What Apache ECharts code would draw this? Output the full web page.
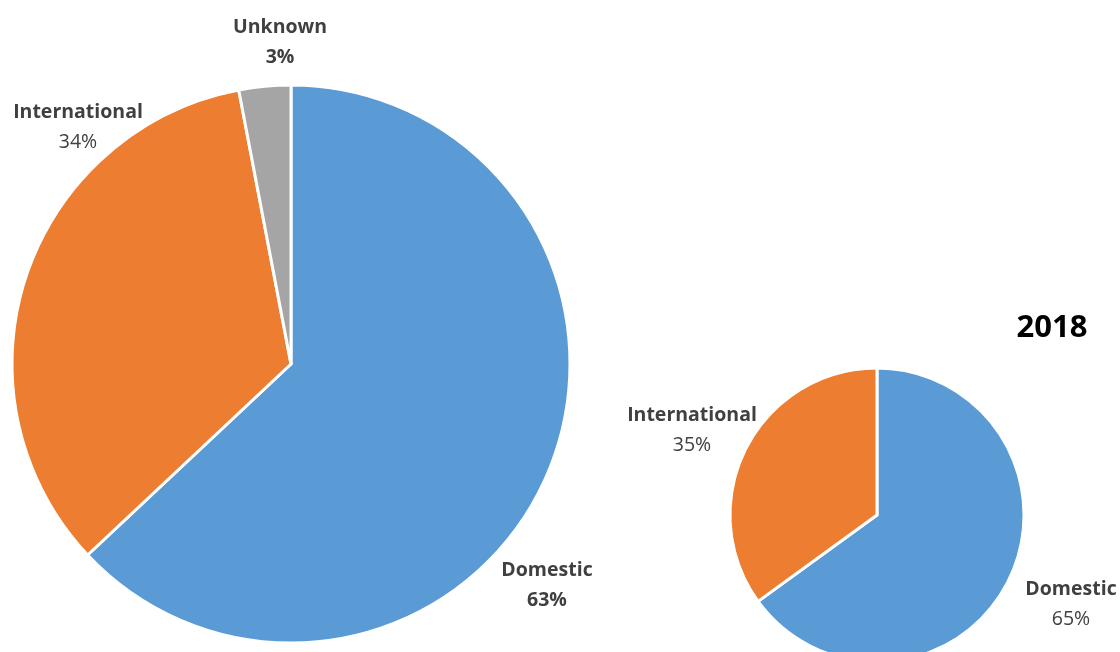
<!DOCTYPE html>
<html>
<head>
<meta charset="utf-8">
<script src="https://cdn.jsdelivr.net/npm/echarts@6/dist/echarts.min.js"></script>
<style>
  html, body { margin: 0; padding: 0; background: #ffffff; }
  #chart { width: 1120px; height: 652px; }
</style>
</head>
<body>
<div id="chart"></div>
<script>
// Visitor origin shares (%)
const categoriesTotal = ['Domestic', 'International', 'Unknown'];
const valuesTotal = [63, 34, 3];
const categories2018 = ['Domestic', 'International'];
const values2018 = [65, 35];
const title2018 = '2018';

const COLORS = { Domestic: '#5B9BD5', International: '#ED7D31', Unknown: '#A5A5A5' };
const FONT = '"Open Sans", Lato, sans-serif';
const TEXT = '#404040';

// label block centres, per series, per slice
const labelAnchors = [
  { Domestic: [547, 585], International: [78, 127], Unknown: [280, 42] },
  { Domestic: [1071, 604], International: [692, 430] }
];
// which label values are set in bold
const boldValue = [
  { Domestic: true, International: false, Unknown: true },
  { Domestic: false, International: false }
];

function buildData(cats, vals, seriesIdx) {
  return cats.map((name, i) => ({
    name,
    value: vals[i],
    itemStyle: { color: COLORS[name] },
    label: {
      formatter: boldValue[seriesIdx][name] ? '{n|{b}}\n{vb|{c}%}' : '{n|{b}}\n{v|{c}%}'
    }
  }));
}

const labelRich = {
  n: { fontFamily: FONT, fontSize: 19.5, fontWeight: 'bold', color: TEXT, lineHeight: 30, align: 'center' },
  v: { fontFamily: FONT, fontSize: 19.5, fontWeight: 'normal', color: TEXT, lineHeight: 30, align: 'center' },
  vb: { fontFamily: FONT, fontSize: 19.5, fontWeight: 'bold', color: TEXT, lineHeight: 30, align: 'center' }
};

function pieSeries(idx, center, radius, data) {
  return {
    type: 'pie',
    center,
    radius,
    startAngle: 90,
    clockwise: true,
    animation: false,
    silent: true,
    itemStyle: { borderColor: '#ffffff', borderWidth: 3 },
    label: { show: true, position: 'outside', rich: labelRich, align: 'center', overflow: 'none', edgeDistance: 0 },
    labelLine: { show: false },
    labelLayout: function (params) {
      const name = (idx === 0 ? categoriesTotal : categories2018)[params.dataIndex];
      const p = labelAnchors[idx][name];
      return { x: p[0], y: p[1], align: 'center', verticalAlign: 'middle' };
    },
    emphasis: { disabled: true },
    data
  };
}

const chart = echarts.init(document.getElementById('chart'), null, { renderer: 'canvas' });
chart.setOption({
  backgroundColor: '#ffffff',
  animation: false,
  title: {
    text: title2018,
    left: 1047,
    top: 308,
    textAlign: 'center',
    textStyle: { fontFamily: FONT, fontSize: 31, fontWeight: 'bold', color: '#000000' }
  },
  series: [
    pieSeries(0, [291, 364], 279, buildData(categoriesTotal, valuesTotal, 0)),
    pieSeries(1, [877, 515], 147, buildData(categories2018, values2018, 1))
  ]
});
</script>
</body>
</html>
